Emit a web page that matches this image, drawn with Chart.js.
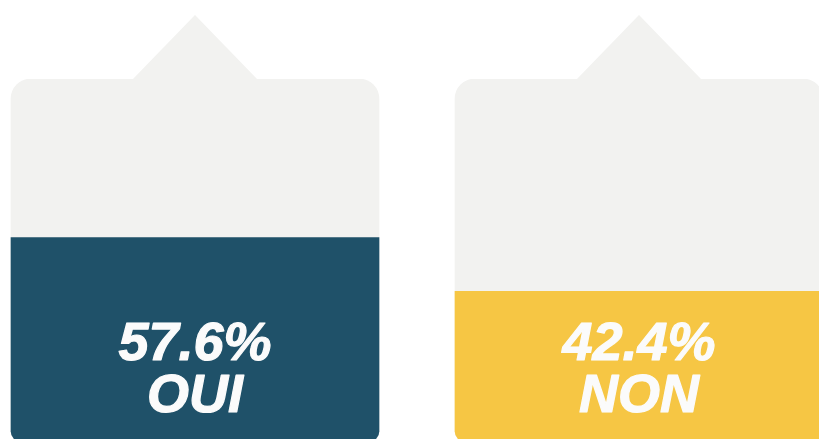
<!DOCTYPE html>
<html>
<head>
<meta charset="utf-8">
<script src="https://cdn.jsdelivr.net/npm/chart.js@4/dist/chart.umd.min.js"></script>
<style>
  html, body { margin: 0; padding: 0; background: #ffffff; overflow: hidden; width: 819px; height: 439px; }
  #wrap { position: absolute; left: -27px; top: 0; width: 888px; height: 442px; }
</style>
</head>
<body>
<div id="wrap"><canvas id="c" width="888" height="442"></canvas></div>
<script>
// ---- data ----
const categories = ["OUI", "NON"];
const percentValues = [57.6, 42.4];
const valueLabels = ["57.6%", "42.4%"];
const answerLabels = ["OUI", "NON"];
const scaleMax = 102.5;
const boxValues = [scaleMax, scaleMax];

const fillColors = ["#1f5169", "#f6c644"];
const boxColor = "#f2f2f0";

const ballotPlugin = {
  id: "ballot",
  beforeDatasetsDraw(chart) {
    // triangle "roof" on top of each grey box
    const meta = chart.getDatasetMeta(1);
    const ctx = chart.ctx;
    ctx.save();
    ctx.fillStyle = boxColor;
    meta.data.forEach(bar => {
      const half = 64;
      ctx.beginPath();
      ctx.moveTo(bar.x - half, bar.y + 2);
      ctx.lineTo(bar.x, bar.y - 64);
      ctx.lineTo(bar.x + half, bar.y + 2);
      ctx.closePath();
      ctx.fill();
    });
    ctx.restore();
  },
  afterDatasetsDraw(chart) {
    const meta = chart.getDatasetMeta(0);
    const ctx = chart.ctx;
    ctx.save();
    ctx.fillStyle = "#fbfbfb";
    ctx.strokeStyle = "#fbfbfb";
    ctx.lineWidth = 1.2;
    ctx.lineJoin = "round";
    ctx.textAlign = "center";
    ctx.textBaseline = "alphabetic";
    ctx.font = "italic bold 54px 'Liberation Sans', Arial, sans-serif";
    meta.data.forEach((bar, i) => {
      ctx.fillText(valueLabels[i], bar.x, bar.base - 81);
      ctx.strokeText(valueLabels[i], bar.x, bar.base - 81);
      ctx.fillText(answerLabels[i], bar.x, bar.base - 29);
      ctx.strokeText(answerLabels[i], bar.x, bar.base - 29);
    });
    ctx.restore();
  }
};

new Chart(document.getElementById("c"), {
  type: "bar",
  data: {
    labels: categories,
    datasets: [
      {
        data: percentValues,
        backgroundColor: fillColors,
        borderWidth: 0,
        borderSkipped: false,
        borderRadius: { topLeft: 0, topRight: 0, bottomLeft: 10, bottomRight: 10 },
        barThickness: 368,
        grouped: false,
        order: 0
      },
      {
        data: boxValues,
        backgroundColor: boxColor,
        borderWidth: 0,
        borderSkipped: false,
        borderRadius: { topLeft: 20, topRight: 20, bottomLeft: 10, bottomRight: 10 },
        barThickness: 368,
        grouped: false,
        order: 1
      }
    ]
  },
  options: {
    responsive: false,
    animation: false,
    layout: { padding: { top: 79, bottom: 1, left: 0, right: 0 } },
    plugins: { legend: { display: false }, tooltip: { enabled: false } },
    scales: {
      x: { display: false, offset: true, grid: { display: false } },
      y: { display: false, min: 0, max: scaleMax, grid: { display: false } }
    }
  },
  plugins: [ballotPlugin]
});
</script>
</body>
</html>
